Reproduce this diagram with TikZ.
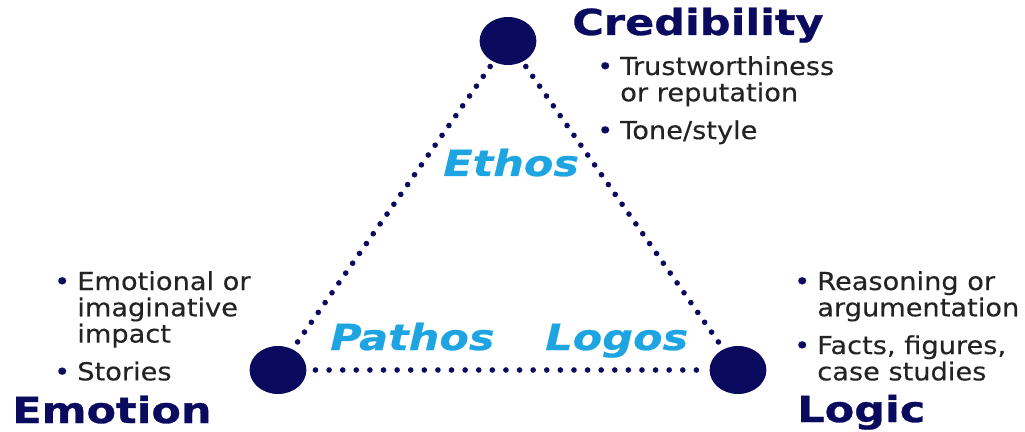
\documentclass[tikz,border=0pt]{standalone}
\usepackage{fontspec}
\setmainfont{DejaVu Sans}
\newfontfamily\headfont{DejaVu Sans}[FakeStretch=1.2,FakeBold=0.8]
\newfontfamily\appealfont{DejaVu Sans}[FakeStretch=1.2,FakeBold=0.6]
\newfontfamily\bodyfont{DejaVu Sans}[FakeStretch=1.1,FakeBold=0.3]
\usetikzlibrary{positioning,shapes.geometric}
\definecolor{navy}{RGB}{10,10,95}
\definecolor{sky}{RGB}{30,165,225}
\definecolor{ink}{RGB}{35,35,35}
\newcommand\itm{\leavevmode\llap{\textcolor{navy}{•}\hspace{5pt}}}

\begin{document}
\begin{tikzpicture}[x=0.025cm,y=-0.025cm,
 vertex/.style={ellipse,fill=navy,minimum width=1.42cm,minimum height=1.2cm,inner sep=0pt},
 link/.style={navy,line width=4pt,line cap=round,dash pattern=on 0pt off 0.3cm,shorten <=0.14cm,shorten >=0.14cm},
 head/.style={text=navy,font=\headfont\bfseries\fontsize{25.5}{28}\selectfont,inner sep=0pt,anchor=base west},
 appeal/.style={text=sky,font=\appealfont\bfseries\itshape\fontsize{25.5}{28}\selectfont,inner sep=0pt,anchor=base west},
 list/.style={text=ink,font=\bodyfont\fontsize{17.6}{17.7}\selectfont,inner sep=0pt,anchor=base west}]
 \useasboundingbox (0,0) rectangle (1025,432);
 % corners of the triangle
 \node[vertex] (ethos) at (508,41) {};
 \node[vertex] (pathos) at (278,370) {};
 \node[vertex] (logos) at (738,370) {};
 \draw[link] (ethos) -- (pathos);
 \draw[link] (ethos) -- (logos);
 \draw[link,dash pattern=on 0pt off 0.34cm,shorten <=0.22cm,shorten >=0.22cm] (pathos) -- (logos);
 % appeals inside
 \node[appeal] (ethosT) at (443,176) {Ethos};
 \node[appeal] (pathosT) at (330,350) {Pathos};
 \node[appeal] (logosT) at (545,350) {Logos};
 % headings
 \node[head] (cred) at (572,35) {Credibility};
 \node[head] (emo) at (12,423) {Emotion};
 \node[head] (logic) at (797,422) {Logic};
 % bullet lists
 \node[list] (credL) at (620,75) {\begin{tabular}[t]{@{}l@{}}
   \itm Trustworthiness\\ or reputation\\[8.2pt] \itm Tone/style\end{tabular}};
 \node[list] (emoL) at (77,290) {\begin{tabular}[t]{@{}l@{}}
   \itm Emotional or\\ imaginative\\ impact\\[8.2pt] \itm Stories\end{tabular}};
 \node[list] (logicL) at (817,290) {\begin{tabular}[t]{@{}l@{}}
   \itm Reasoning or\\ argumentation\\[8.2pt] \itm Facts, figures,\\ case studies\end{tabular}};
\end{tikzpicture}
\end{document}
